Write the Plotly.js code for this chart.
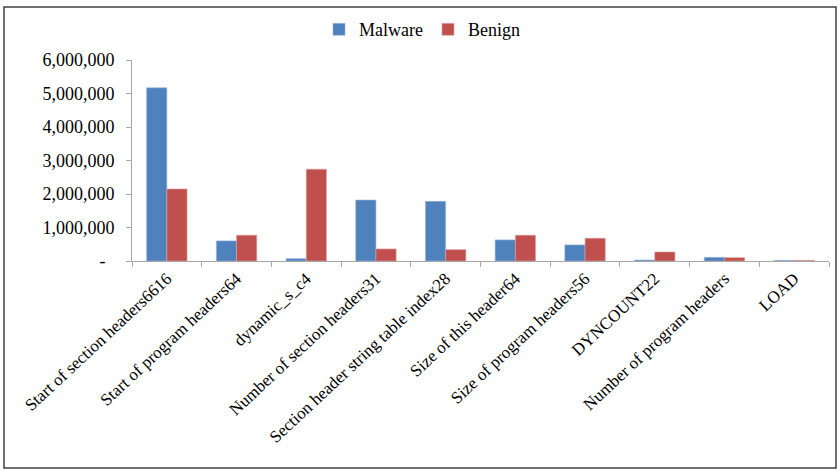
<!DOCTYPE html>
<html><head><meta charset="utf-8">
<script src="https://cdn.plot.ly/plotly-3.0.1.min.js"></script>
<style>html,body{margin:0;padding:0;background:#fff}#chart{width:840px;height:473px}</style>
</head><body><div id="chart"></div>
<script>
const categories = ["Start of section headers6616","Start of program headers64","dynamic_s_c4","Number of section headers31","Section header string table index28","Size of this header64","Size of program headers56","DYNCOUNT22","Number of program headers","LOAD"];
const malware = [5170000, 600000, 70000, 1820000, 1780000, 630000, 480000, 30000, 110000, 20000];
const benign  = [2150000, 770000, 2740000, 360000, 340000, 770000, 680000, 270000, 100000, 20000];
const yTickVals = [0, 1000000, 2000000, 3000000, 4000000, 5000000, 6000000];
const yTickText = ["-\u00a0\u00a0", "1,000,000", "2,000,000", "3,000,000", "4,000,000", "5,000,000", "6,000,000"];

const L = 132, R = 829, T = 56, B = 261, W = 840, H = 473;
const pw = R - L, ph = B - T;
const px = v => (v - L) / pw, py = v => (B - v) / ph;

const FAM = "Times New Roman, Liberation Serif, DejaVu Serif, serif";
const data = [
  {type: "bar", name: "Malware", x: categories, y: malware, marker: {color: "#4F81BD", line: {color: "#9DB7DA", width: 0.6}}},
  {type: "bar", name: "Benign", x: categories, y: benign, marker: {color: "#C0504D", line: {color: "#E0A3A1", width: 0.6}}}
];
const layout = {
  width: W, height: H,
  margin: {l: L, r: W - R, t: T, b: H - B, pad: 0},
  paper_bgcolor: "#fff", plot_bgcolor: "#fff",
  font: {family: FAM, size: 17, color: "#000"},
  barmode: "group", bargap: 0.42, bargroupgap: 0,
  showlegend: true,
  legend: {orientation: "h", x: px(422), xanchor: "center", y: py(25), yanchor: "middle", font: {family: FAM, size: 18, color: "#000"}, itemwidth: 30, tracegroupgap: 0},
  xaxis: {type: "category", tickangle: -43, ticks: "outside", tickson: "boundaries", ticklen: 5, tickcolor: "#A6A6A6", showline: true, linecolor: "#A6A6A6", linewidth: 1, showgrid: false, tickfont: {family: FAM, size: 17, color: "#000"}, automargin: false},
  yaxis: {range: [0, 6000000], tickvals: yTickVals, ticktext: yTickText, ticks: "outside", ticklen: 5, ticklabelstandoff: 8, tickcolor: "#A6A6A6", showline: true, linecolor: "#A6A6A6", linewidth: 1, showgrid: false, zeroline: false, tickfont: {family: FAM, size: 18, color: "#000"}, automargin: false},
  shapes: [{type: "rect", xref: "paper", yref: "paper", x0: px(4), x1: px(836), y0: py(472), y1: py(2), line: {color: "#404040", width: 1.5}, layer: "above"}]
};
Plotly.newPlot("chart", data, layout, {displayModeBar: false, staticPlot: true});
</script></body></html>
